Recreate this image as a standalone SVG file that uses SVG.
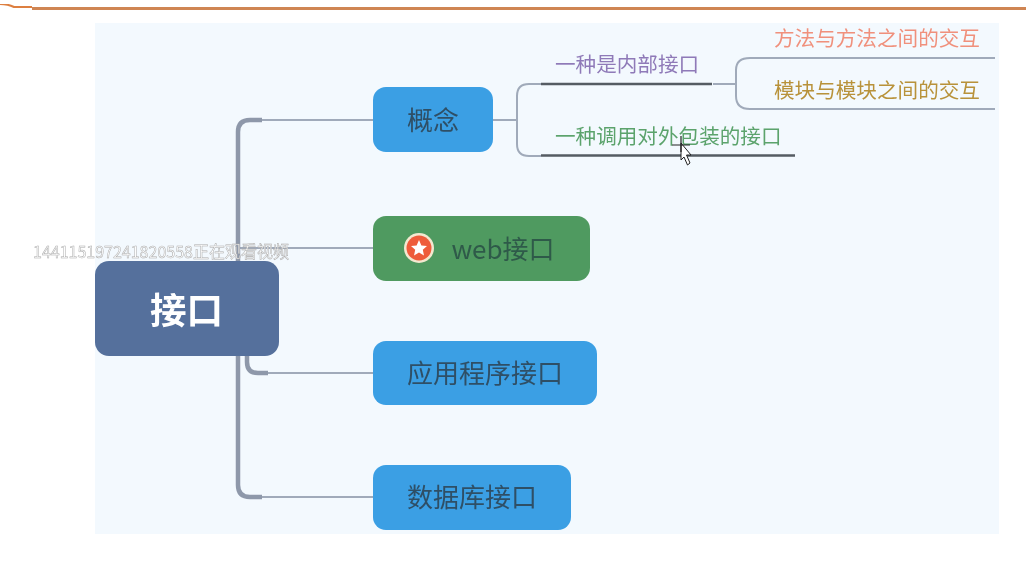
<svg xmlns="http://www.w3.org/2000/svg" width="1026" height="588" viewBox="0 0 1026 588">
<defs><filter id="soft" x="0" y="0" width="100%" height="100%" filterUnits="objectBoundingBox"><feGaussianBlur stdDeviation="0.45"/></filter></defs>
<style>
text{font-family:"Noto Sans CJK SC","Liberation Sans",sans-serif}
.t{font-size:26px;fill:#2f4f66;text-anchor:middle}
.b{fill:#3a9fe4}
.s{font-size:20.600px}
.c{fill:none;stroke:#a0aaba;stroke-width:2}
.m{fill:none;stroke:#8e98aa;stroke-width:4.500}
.u{stroke:#555c63;stroke-width:2.500;fill:none}
</style>
<rect width="1026" height="588" fill="#fff"/>
<g filter="url(#soft)">
<rect x="95" y="23" width="904" height="511" fill="#f3f9fe"/>
<g id="top-rule"><path d="M0 4Q8 4 14 7H32" fill="none" stroke="#dd7f3f" stroke-width="2"/><path d="M32 8.500H1026" fill="none" stroke="#cf8552" stroke-width="3"/></g>
<g id="connectors">
<path class="c" d="M250 120H373M238 248H373M258 373H373M250 497H373"/>
<path class="m" d="M238 262V132Q238 120 250 120H262"/>
<path class="m" d="M238 356V485Q238 497 250 497H262"/>
<path class="m" d="M247 356V362Q247 373 258 373H268"/>
<path class="c" d="M493 120H517M541 84H529Q517 84 517 96V144Q517 156 529 156H541"/>
<path class="c" d="M713 84H736M995 58H750Q736 58 736 70V96Q736 109 750 109H995"/>
<path class="u" d="M541 84H712M541 155.500H795"/>
</g>
<g id="n-root"><rect x="95" y="261" width="184" height="95" rx="14" fill="#54709c"/><text x="186.500" y="323.500" font-size="36.500" font-weight="700" fill="#fff" text-anchor="middle">接口</text></g>
<g id="n-gainian"><rect class="b" x="373" y="87" width="120" height="65" rx="13"/><text class="t" x="433" y="130">概念</text></g>
<g id="n-web"><rect x="373" y="216" width="217" height="65" rx="13" fill="#509a60"/><circle cx="419" cy="248" r="15" fill="#f4e8d0"/><circle cx="419" cy="248" r="12.500" fill="#ee5c3a"/><polygon points="419,240 421.400,245.500 427,246 422.800,249.800 424,255.500 419,252.500 414,255.500 415.200,249.800 411,246 416.600,245.500" fill="#fff"/><text class="t" x="503" y="259" style="fill:#2f5a4a">web接口</text></g>
<g id="n-app"><rect class="b" x="373" y="341" width="224" height="64" rx="13"/><text class="t" x="485" y="383">应用程序接口</text></g>
<g id="n-db"><rect class="b" x="373" y="465" width="198" height="65" rx="13"/><text class="t" x="472" y="507">数据库接口</text></g>
<g id="n-internal"><text class="s" x="555" y="72" fill="#8f7ab8">一种是内部接口</text></g>
<g id="n-external"><text class="s" x="555" y="144" fill="#5ba36c">一种调用对外包装的接口</text></g>
<g id="n-method"><text class="s" x="774" y="46" fill="#f0907c">方法与方法之间的交互</text></g>
<g id="n-module"><text class="s" x="774" y="98" fill="#b8923a">模块与模块之间的交互</text></g>
<text x="33" y="258" font-size="16.500" fill="#fff" stroke="#aaa" stroke-width="0.500" textLength="256" lengthAdjust="spacingAndGlyphs">144115197241820558正在观看视频</text>
<g id="cursor"><path d="M681 143L691 155L686.500 155L690 163L687.500 165L684 157L681 160Z" fill="#fff" stroke="#222" stroke-width="1"/><path d="M672 145H690M681 136V152" stroke="#222" stroke-width="1.200" fill="none"/></g>
</g>
</svg>
